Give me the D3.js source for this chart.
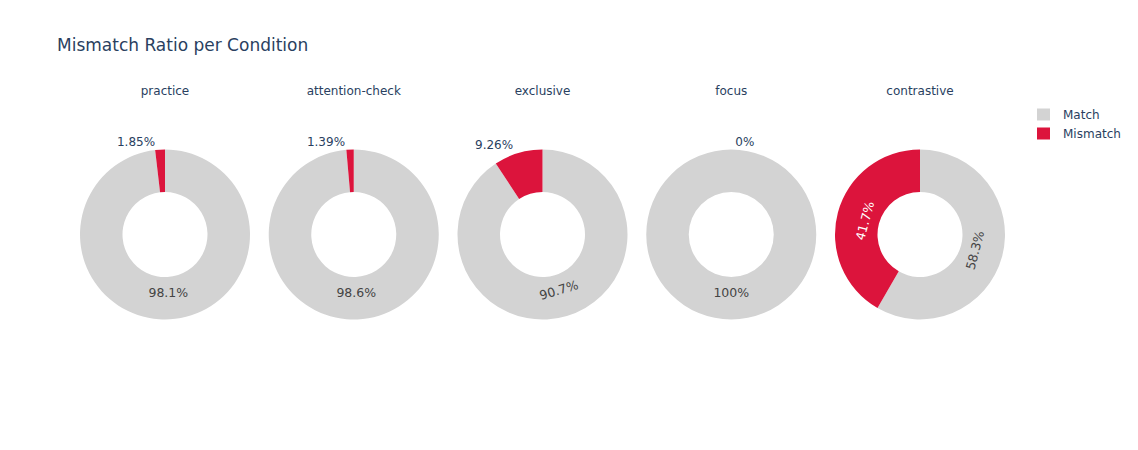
<!DOCTYPE html>
<html>
<head>
<meta charset="utf-8">
<script src="https://cdn.jsdelivr.net/npm/d3@7"></script>
<style>
  body { margin: 0; background: #fff; }
  svg { display: block; font-family: "DejaVu Sans", Verdana, sans-serif; }
</style>
</head>
<body>
<svg id="chart" width="1138" height="450"></svg>
<script>
const conditions = ["practice", "attention-check", "exclusive", "focus", "contrastive"];
const matchCounts = [53, 71, 49, 54, 42];
const mismatchCounts = [1, 1, 5, 0, 30];
const seriesNames = ["Match", "Mismatch"];
const seriesColors = ["#d3d3d3", "#dc143c"];
const chartTitle = "Mismatch Ratio per Condition";

const svg = d3.select("#chart");
const W = 1138, H = 450;
svg.append("rect").attr("width", W).attr("height", H).attr("fill", "#fff");

svg.append("text")
  .attr("x", 57).attr("y", 51)
  .attr("font-size", 17).attr("fill", "#2a3f5f")
  .text(chartTitle);

const xPos = d3.scalePoint().domain(conditions).range([165, 920]);
const cy = 234.5;
const R = 85, r0 = 42.5;
const color = d3.scaleOrdinal().domain(seriesNames).range(seriesColors);
const fmt = d3.format(".3~r");

const arc = d3.arc().innerRadius(r0).outerRadius(R);

conditions.forEach((c, i) => {
  const cx = xPos(c);
  const total = matchCounts[i] + mismatchCounts[i];
  const data = [
    { name: "Match", v: matchCounts[i] },
    { name: "Mismatch", v: mismatchCounts[i] }
  ];
  const pie = d3.pie().sort(null).value(d => d.v)
    .startAngle(0).endAngle(2 * Math.PI);
  const arcs = pie(data);

  const g = svg.append("g").attr("transform", `translate(${cx},${cy})`);

  svg.append("text")
    .attr("x", cx).attr("y", 95)
    .attr("text-anchor", "middle")
    .attr("font-size", 12).attr("fill", "#2a3f5f")
    .text(c);

  g.selectAll("path").data(arcs).enter().append("path")
    .attr("d", arc)
    .attr("fill", d => color(d.data.name));

  arcs.forEach(a => {
    const frac = a.data.v / total;
    const label = fmt(frac * 100) + "%";
    const mid = (a.startAngle + a.endAngle) / 2;
    if (frac > 0.15) {
      const rl = 57;
      const x = rl * Math.sin(mid), y = -rl * Math.cos(mid);
      let deg = mid * 180 / Math.PI;
      if (deg > 180) deg -= 360;
      let rot = deg;
      if (rot > 90) rot -= 180;
      if (rot < -90) rot += 180;
      if (frac > 0.95) rot = 0;
      g.append("text")
        .attr("transform", `translate(${x},${y + 1}) rotate(${rot})`)
        .attr("text-anchor", "middle")
        .attr("dy", "0.35em")
        .attr("font-size", 12.5)
        .attr("fill", a.data.name === "Mismatch" ? "#ffffff" : "#444444")
        .text(label);
    } else {
      const px = R * Math.sin(mid), py = -R * Math.cos(mid);
      const rightSide = px >= -0.5;
      g.append("text")
        .attr("x", rightSide ? px + 4 : px - 5)
        .attr("y", py - 4)
        .attr("text-anchor", rightSide ? "start" : "end")
        .attr("font-size", 12)
        .attr("fill", "#2a3f5f")
        .text(label);
    }
  });
});

// legend
const legend = svg.append("g");
seriesNames.forEach((n, i) => {
  const y = 114.5 + i * 19;
  legend.append("rect")
    .attr("x", 1037).attr("y", y - 6).attr("width", 13).attr("height", 12)
    .attr("fill", color(n));
  legend.append("text")
    .attr("x", 1063).attr("y", y).attr("dy", "0.35em")
    .attr("font-size", 12).attr("fill", "#2a3f5f")
    .text(n);
});
</script>
</body>
</html>
